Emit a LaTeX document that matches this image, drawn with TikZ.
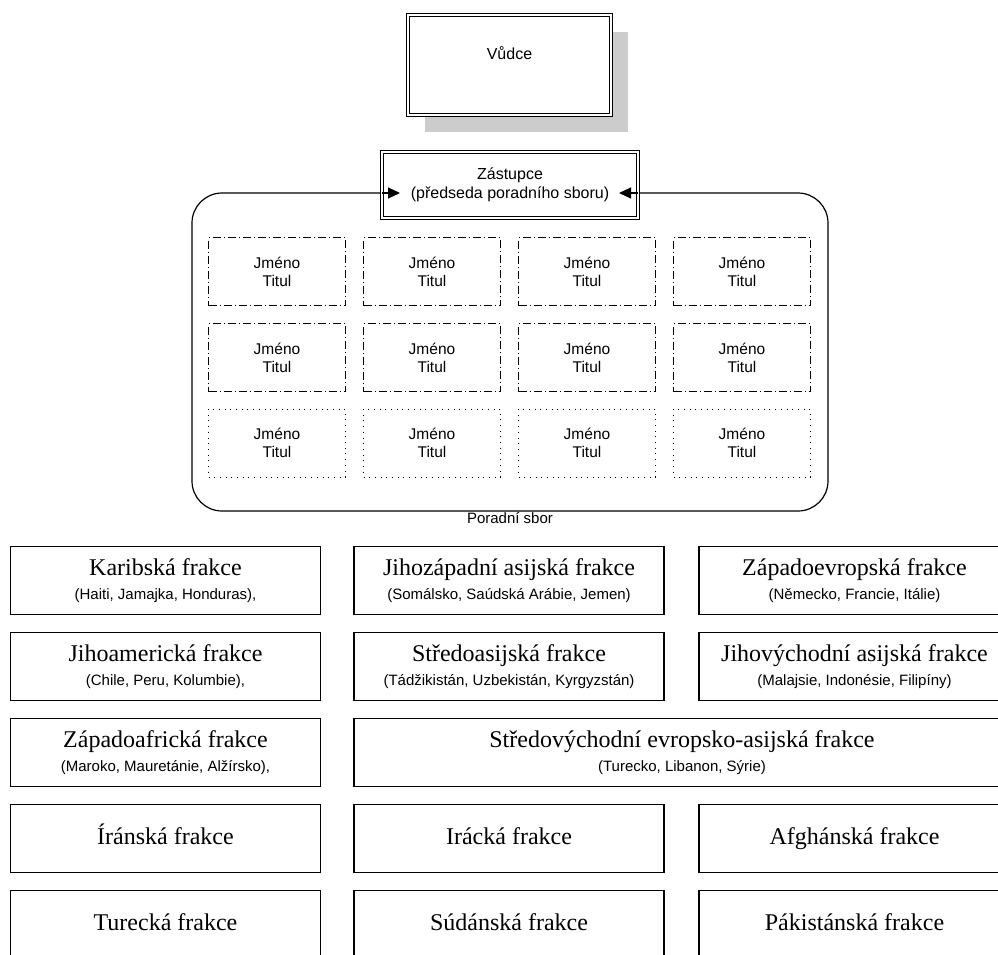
\documentclass[tikz,border=0pt]{standalone}
\usepackage{fontspec}
\setmainfont{Liberation Serif}
\setsansfont{Liberation Sans}
\usetikzlibrary{arrows.meta,shadows,positioning}

\newcommand{\frakfont}{\rmfamily\fontsize{24}{24}\selectfont}
\newcommand{\zemefont}{\sffamily\fontsize{15}{24}\selectfont}

\begin{document}
\begin{tikzpicture}[x=1pt,y=-1pt,
  head/.style={draw,double,double distance=2pt,line width=0.8pt,fill=white,inner sep=0pt,align=center,font=\sffamily\fontsize{16}{19}\selectfont},
  member/.style={draw,minimum width=137pt,minimum height=68pt,inner sep=0pt,align=center,font=\sffamily\fontsize{15.5}{18}\selectfont},
  dashdot/.style={member,line width=1.2pt,dash pattern=on 8pt off 3pt on 1pt off 3pt},
  dotbox/.style={member,line width=1pt,dash pattern=on 1pt off 4.7pt},
  frakce/.style={draw,line width=1.2pt,minimum width=310pt,minimum height=68pt,inner sep=0pt,align=center,font=\zemefont},
  frakce1/.style={frakce,text height=17pt,text depth=5pt,font=\frakfont},
  tip/.style={-{Triangle[length=12pt,width=11pt]},line width=1.2pt}]

\path [clip,use as bounding box] (0,0) rectangle (998,954);

\node [head,minimum width=203pt,minimum height=100pt,drop shadow={shadow xshift=17pt,shadow yshift=-17pt,fill=black!20,opacity=1}] at (509.5,65) (vudce) {Vůdce\\ \strut};

\node [draw,line width=1.2pt,rounded corners=30pt,minimum width=636pt,minimum height=318pt] at (510,352) (sbor) {};

\node [below=1pt of sbor,inner sep=0pt,font=\sffamily\fontsize{15}{18}\selectfont] (sborpopis) {Poradní sbor};

\node [head,minimum width=256pt,minimum height=66pt] at (510,185) (zast) {Zástupce\\(předseda poradního sboru)};

\coordinate (zastL) at (400,193);
\coordinate (zastR) at (619,193);
\draw [tip] (zast.west |- zastL) -- (zastL);
\draw [tip] (zast.east |- zastR) -- (zastR);

% poradni sbor
\foreach \c in {0,...,3} {
  \foreach \r in {0,1} {
    \node [dashdot] at ({277+155*\c},{271.5+86*\r}) (clen\r\c) {Jméno\\Titul};
  }
  \node [dotbox] at ({277+155*\c},443) (clen2\c) {Jméno\\Titul};
}

% frakce
\node [frakce] at (165.5,580.5) (karib) {{\frakfont Karibská frakce}\\(Haiti, Jamajka, Honduras),};
\node [frakce] at (509,580.5) (jihozap) {{\frakfont Jihozápadní asijská frakce}\\(Somálsko, Saúdská Arábie, Jemen)};
\node [frakce,minimum width=311pt] at (854.5,580.5) (zapevr) {{\frakfont Západoevropská frakce}\\(Německo, Francie, Itálie)};

\node [frakce] at (165.5,666.5) (jihoam) {{\frakfont Jihoamerická frakce}\\(Chile, Peru, Kolumbie),};
\node [frakce] at (509,666.5) (stredoas) {{\frakfont Středoasijská frakce}\\(Tádžikistán, Uzbekistán, Kyrgyzstán)};
\node [frakce,minimum width=311pt] at (854.5,666.5) (jihovych) {{\frakfont Jihovýchodní asijská frakce}\\(Malajsie, Indonésie, Filipíny)};

\node [frakce] at (165.5,752.5) (zapafr) {{\frakfont Západoafrická frakce}\\(Maroko, Mauretánie, Alžírsko),};
\node [frakce,minimum width=656pt] at (682,752.5) (stredvych) {{\frakfont Středovýchodní evropsko-asijská frakce}\\(Turecko, Libanon, Sýrie)};

\node [frakce1] at (165.5,838.5) (iran) {Íránská frakce};
\node [frakce1] at (509,838.5) (irak) {Irácká frakce};
\node [frakce1,minimum width=311pt] at (854.5,838.5) (afghan) {Afghánská frakce};

\node [frakce1] at (165.5,924.5) (turec) {Turecká frakce};
\node [frakce1] at (509,924.5) (sudan) {Súdánská frakce};
\node [frakce1,minimum width=311pt] at (854.5,924.5) (pakistan) {Pákistánská frakce};
\end{tikzpicture}
\end{document}
